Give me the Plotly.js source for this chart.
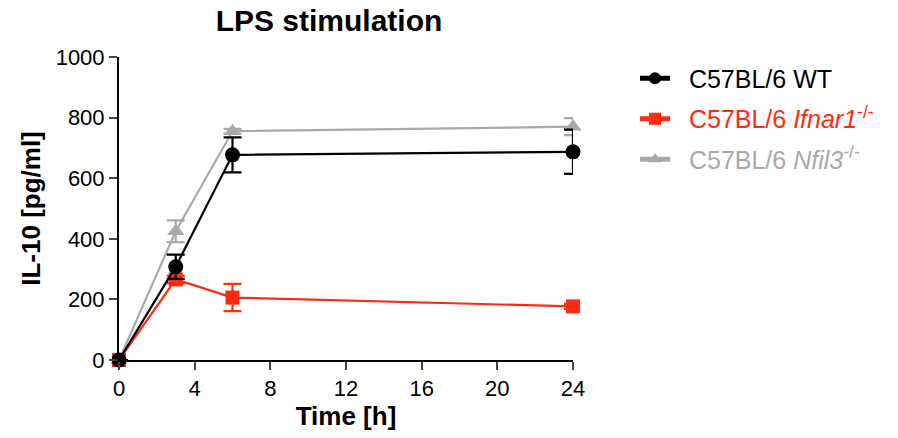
<!DOCTYPE html>
<html><head><meta charset="utf-8">
<script src="https://cdn.plot.ly/plotly-3.0.1.min.js"></script>
<style>body{margin:0}#c{width:898px;height:438px}</style>
</head><body><div id="c"></div>
<script>
const time = [0, 3, 6, 24];
const wt = [0, 308, 677, 687];
const wtErr = [0, 40, 58, 73];
const ifnar = [0, 266, 206, 177];
const ifnarErr = [0, 12, 45, 8];
const nfil = [0, 425, 755, 770];
const nfilErr = [0, 36, 8, 28];
const xTicks = [0, 4, 8, 12, 16, 20, 24];
const yTicks = [0, 200, 400, 600, 800, 1000];

const RED = '#ff2a10', GRAY = '#a9a9a9';
const SP = '&nbsp;&nbsp;';
function tr(y, e, name, color, symbol, size, grp, rank) {
  return {x: time, y: y, name: name, type: 'scatter', mode: 'lines+markers', legendgroup: grp, legendrank: rank,
    line: {color: color, width: 2.2},
    marker: {color: color, symbol: symbol, size: size},
    error_y: {type: 'data', array: e, visible: true, color: color, thickness: 2.2, width: 9},
    cliponaxis: false};
}
const data = [
  tr(nfil, nfilErr, SP + '<span style="color:' + GRAY + '">C57BL/6 <i>Nfil3</i><sup>-/-</sup></span>', GRAY, 'triangle-up', 15, 'c', 3),
  tr(ifnar, ifnarErr, SP + '<span style="color:' + RED + '">C57BL/6 <i>Ifnar1</i><sup>-/-</sup></span>', RED, 'square', 14, 'b', 2),
  tr(wt, wtErr, SP + 'C57BL/6 WT', '#000', 'circle', 15, 'a', 1)
];
const font = 'Liberation Sans, Arial, Helvetica, sans-serif';
const layout = {
  width: 898, height: 438,
  margin: {l: 119, r: 325, t: 57, b: 78},
  paper_bgcolor: '#fff', plot_bgcolor: '#fff',
  font: {family: font, size: 22, color: '#000'},
  title: {text: '<b>LPS stimulation</b>', x: (329 - 119) / 454, xanchor: 'center', xref: 'paper', y: 1 - 20 / 438, yanchor: 'middle', font: {size: 30, family: font}},
  xaxis: {range: [0, 24], tickvals: xTicks, ticks: 'outside', ticklen: 8, tickwidth: 2, showline: true, linewidth: 2, linecolor: '#000', showgrid: false, zeroline: false,
    title: {text: '<b>Time [h]</b>', font: {size: 26}, standoff: 6}, tickfont: {size: 22}},
  yaxis: {range: [0, 1000], tickvals: yTicks, ticks: 'outside', ticklen: 8, tickwidth: 2, showline: true, linewidth: 2, linecolor: '#000', showgrid: false, zeroline: false,
    title: {text: '<b>IL-10 [pg/ml]</b>', font: {size: 26}, standoff: 8}, tickfont: {size: 22}},
  showlegend: true,
  legend: {x: 1.1366, y: 1.005, xanchor: 'left', yanchor: 'top', traceorder: 'grouped', font: {size: 25}, tracegroupgap: 5, itemsizing: 'constant'}
};
Plotly.newPlot('c', data, layout, {displayModeBar: false});
</script></body></html>
